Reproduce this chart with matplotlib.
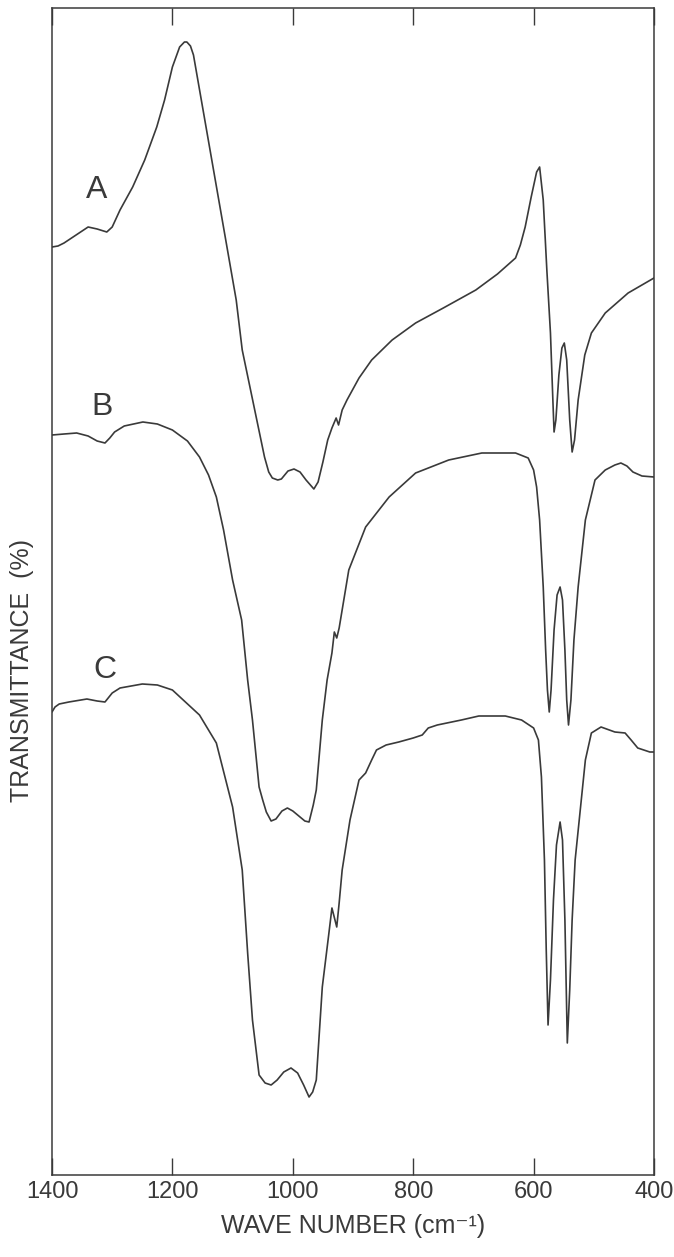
"""Infrared transmittance spectra A, B and C, 1400-400 cm-1, stacked."""

import matplotlib

matplotlib.use("Agg")
import matplotlib.pyplot as plt

INK = "#3a3a3a"
FONT = ["Liberation Sans Narrow", "Liberation Sans", "DejaVu Sans"]

# wave numbers (cm-1) and transmittance (arbitrary offset %)
WN_A = [1400, 1390, 1380, 1360, 1340, 1325, 1309, 1300, 1287, 1266, 1246, 1226,
        1213, 1200, 1188, 1180, 1176, 1170, 1165, 1094, 1084, 1047, 1040, 1034,
        1025, 1019, 1008, 998, 988, 978, 965, 958, 950, 942, 935, 928, 924, 918,
        910, 890, 869, 835, 796, 750, 696, 660, 630, 622, 614, 604, 595, 590,
        584, 578, 572, 568, 566, 563, 558, 553, 549, 545, 540, 536, 532, 526,
        515, 504, 481, 443, 400]
T_A = [91.8, 91.9, 92.2, 93.0, 93.8, 93.6, 93.3, 93.8, 95.5, 97.8, 100.5, 103.8,
       106.5, 109.8, 111.8, 112.3, 112.3, 111.9, 111.0, 86.5, 81.5, 70.8, 69.3, 68.7,
       68.5, 68.6, 69.4, 69.6, 69.3, 68.5, 67.6, 68.3, 70.3, 72.5, 73.7, 74.7,
       74.0, 75.5, 76.5, 78.7, 80.5, 82.5, 84.2, 85.7, 87.5, 89.1, 90.7, 92.0,
       93.8, 96.8, 99.3, 99.8, 96.5, 89.5, 83.2, 76.5, 73.3, 74.5, 79.0, 81.7,
       82.2, 80.5, 74.5, 71.3, 72.5, 76.5, 81.0, 83.2, 85.2, 87.2, 88.7]

WN_B = [1400, 1380, 1359, 1340, 1325, 1312, 1304, 1296, 1280, 1249, 1225, 1200,
        1175, 1155, 1140, 1127, 1115, 1100, 1085, 1075, 1067, 1056, 1050, 1044,
        1036, 1028, 1018, 1009, 1000, 990, 980, 973, 966, 961, 951, 943, 935,
        931, 927, 923, 907, 879, 840, 796, 741, 686, 630, 609, 600, 595, 590,
        584, 580, 577, 574, 571, 566, 561, 556, 552, 548, 545, 542, 538, 533,
        526, 514, 498, 481, 465, 455, 445, 435, 420, 400]
T_B = [73.0, 73.1, 73.2, 72.9, 72.4, 72.2, 72.7, 73.3, 73.9, 74.3, 74.1, 73.5,
       72.4, 70.8, 69.0, 66.8, 63.5, 58.5, 54.5, 48.5, 44.5, 37.8, 36.5, 35.3,
       34.4, 34.6, 35.4, 35.7, 35.4, 34.9, 34.4, 34.3, 36.0, 37.5, 44.5, 48.5,
       51.2, 53.3, 52.7, 53.7, 59.5, 63.8, 66.8, 69.2, 70.5, 71.2, 71.2, 70.7,
       69.5, 67.8, 64.5, 57.8, 51.5, 47.5, 45.3, 47.5, 53.5, 57.0, 57.8, 56.5,
       51.5, 46.5, 44.0, 46.5, 52.5, 57.8, 64.5, 68.5, 69.5, 70.0, 70.2, 69.9,
       69.3, 68.9, 68.8]

WN_C = [1400, 1395, 1388, 1372, 1342, 1325, 1312, 1300, 1287, 1250, 1225, 1200,
        1155, 1127, 1100, 1084, 1075, 1067, 1056, 1046, 1036, 1026, 1015, 1003,
        992, 982, 973, 967, 961, 951, 940, 935, 927, 923, 918, 905, 890, 879,
        869, 861, 845, 824, 800, 785, 775, 760, 720, 691, 647, 620, 600, 592,
        587, 582, 579, 576, 572, 567, 562, 556, 552, 548, 544, 540, 536, 531,
        514, 504, 488, 465, 448, 438, 427, 407, 400]
T_C = [45.3, 45.8, 46.1, 46.3, 46.6, 46.4, 46.3, 47.2, 47.7, 48.1, 48.0, 47.5,
       45.0, 42.2, 35.8, 29.5, 21.2, 14.5, 9.0, 8.2, 8.0, 8.5, 9.3, 9.7,
       9.2, 8.0, 6.8, 7.3, 8.5, 17.8, 23.2, 25.7, 23.8, 26.2, 29.5, 34.5,
       38.5, 39.2, 40.5, 41.5, 42.0, 42.3, 42.7, 43.0, 43.7, 44.0, 44.5, 44.9,
       44.9, 44.5, 43.7, 42.5, 38.8, 30.5, 21.5, 14.0, 18.5, 26.5, 32.0, 34.3,
       32.5, 24.5, 12.2, 17.5, 24.5, 30.5, 40.5, 43.2, 43.8, 43.3, 43.2, 42.5,
       41.7, 41.3, 41.3]

CURVE_LABELS = ["A", "B", "C"]
LABEL_WN = [1326, 1317, 1312]
LABEL_T = [97.5, 75.8, 49.5]

XTICKS = [1400, 1200, 1000, 800, 600, 400]

fig = plt.figure(figsize=(6.74, 12.57), dpi=100)
ax = fig.add_axes([52 / 674, 82 / 1257, 602 / 674, 1167 / 1257])

for wn, t in [(WN_A, T_A), (WN_B, T_B), (WN_C, T_C)]:
    ax.plot(wn, t, color=INK, lw=1.2, solid_joinstyle="round",
            solid_capstyle="round")

for lab, x, y in zip(CURVE_LABELS, LABEL_WN, LABEL_T):
    ax.text(x, y, lab, family=FONT, fontsize=23, color=INK,
            ha="center", va="center")

ax.set_xlim(1400, 400)
ax.set_ylim(-1.0, 115.7)
ax.set_xticks(XTICKS)
ax.set_xticklabels([str(v) for v in XTICKS], family=FONT, fontsize=17, color=INK)
ax.set_yticks([])
ax.tick_params(axis="x", direction="in", length=12, width=1.0, color=INK,
               top=True, pad=4)
for s in ax.spines.values():
    s.set_color(INK)
    s.set_linewidth(1.1)

ax.set_xlabel("WAVE NUMBER (cm⁻¹)", family=FONT, fontsize=18, color=INK,
              labelpad=8)
fig.text(22 / 674, 1 - 670 / 1257, "TRANSMITTANCE  (%)", family=FONT,
         fontsize=18, color=INK, rotation=90, ha="center", va="center")

fig.savefig("out.png", dpi=100)
plt.close(fig)
